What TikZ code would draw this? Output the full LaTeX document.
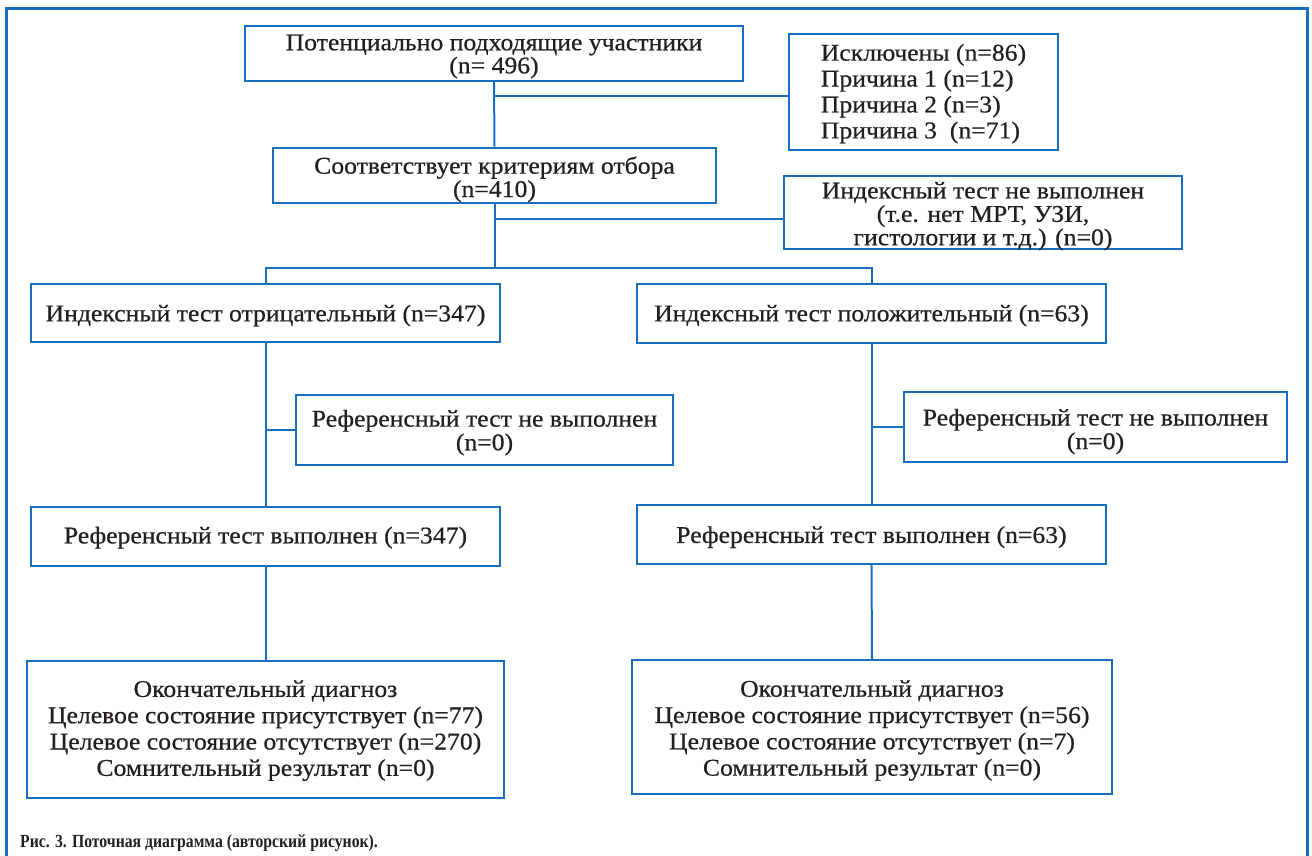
\documentclass[tikz,border=0pt]{standalone}
\usepackage{fontspec}
\setmainfont{Liberation Serif}[FakeStretch=1.07,FakeBold=0.6]
\newfontfamily\capfont{Liberation Serif}[FakeStretch=0.85]
\definecolor{bl}{RGB}{22,112,190}
\definecolor{txt}{RGB}{35,31,32}
% #1 column type, #2 shift down (pt), #3 line pitch (pt), #4 lines
\newcommand{\tx}[4][c]{\raisebox{-#2pt}[\height][\depth]{\fontsize{24}{#3}\selectfont\begin{tabular}{@{}#1@{}}#4\end{tabular}}}
\tikzset{
  box/.style={draw=bl, line width=2.2pt, inner sep=0pt, text=txt},
  conn/.style={draw=bl, line width=2pt},
  frame/.style={draw=bl, line width=3pt}
}
\begin{document}
\begin{tikzpicture}[x=1pt,y=-1pt]
\useasboundingbox (0,0) rectangle (1312,856);
% outer frame (open at bottom)
\coordinate (fbl) at (6,856);
\coordinate (ftl) at (6,8.5);
\coordinate (ftr) at (1307,8.5);
\coordinate (fbr) at (1307,856);
\draw[frame] (fbl) -- (ftl) -- (ftr) -- (fbr);

% boxes
\node[box, minimum width=498, minimum height=55] (pot) at (494,53.5)
  {\tx{3.7}{21.6}{Потенциально подходящие участники\\(n= 496)}};
\node[box, minimum width=269, minimum height=116] (excl) at (923.5,92)
  {\tx[l]{2.3}{25.9}{Исключены (n=86)\\Причина 1 (n=12)\\Причина 2 (n=3)\\Причина 3~~(n=71)}};
\node[box, minimum width=443, minimum height=55] (crit) at (494.5,175.3)
  {\tx{4.8}{22.4}{Соответствует критериям отбора\\(n=410)}};
\node[box, minimum width=398, minimum height=72.5] (inot) at (983,212.4)
  {\tx{4.6}{22.5}{Индексный тест не выполнен\\(т.е. нет МРТ, УЗИ,\\гистологии и т.д.) (n=0)}};
\node[box, minimum width=469, minimum height=58.5] (ineg) at (265.5,313)
  {\tx{3.3}{22}{Индексный тест отрицательный (n=347)}};
\node[box, minimum width=469, minimum height=58.5] (ipos) at (871.5,313.4)
  {\tx{2.9}{22}{Индексный тест положительный (n=63)}};
\node[box, minimum width=377, minimum height=70] (rnotl) at (484.5,430)
  {\tx{3.6}{23.3}{Референсный тест не выполнен\\(n=0)}};
\node[box, minimum width=383, minimum height=70] (rnotr) at (1095.5,427)
  {\tx{5.5}{23.3}{Референсный тест не выполнен\\(n=0)}};
\node[box, minimum width=469, minimum height=58.5] (rdonel) at (265.5,536.4)
  {\tx{2}{22}{Референсный тест выполнен (n=347)}};
\node[box, minimum width=469, minimum height=58.5] (rdoner) at (871.5,534.5)
  {\tx{3.4}{22}{Референсный тест выполнен (n=63)}};
\node[box, minimum width=477, minimum height=137] (finl) at (265.5,729.2)
  {\tx{1.9}{26.3}{Окончательный диагноз\\Целевое состояние присутствует (n=77)\\Целевое состояние отсутствует (n=270)\\Сомнительный результат (n=0)}};
\node[box, minimum width=480, minimum height=134] (finr) at (872,727.2)
  {\tx{3.7}{26.3}{Окончательный диагноз\\Целевое состояние присутствует (n=56)\\Целевое состояние отсутствует (n=7)\\Сомнительный результат (n=0)}};

% connectors
\coordinate (j1) at (pot.south |- 0,96);
\draw[conn] (pot.south) -- (crit.north);
\draw[conn] (j1) -- (j1 -| excl.west);

\coordinate (j2) at (crit.south |- 0,218.5);
\coordinate (split) at (crit.south |- 0,268);
\coordinate (splitl) at (ineg.north |- split);
\coordinate (splitr) at (ipos.north |- split);
\draw[conn] (crit.south) -- (split);
\draw[conn] (j2) -- (j2 -| inot.west);
\draw[conn] (ineg.north) -- (splitl) -- (splitr) -- (ipos.north);

\coordinate (j3) at (ineg.south |- rnotl.west);
\draw[conn] (ineg.south) -- (rdonel.north);
\draw[conn] (j3) -- (rnotl.west);
\coordinate (j4) at (ipos.south |- rnotr.west);
\draw[conn] (ipos.south) -- (rdoner.north);
\draw[conn] (j4) -- (rnotr.west);

\draw[conn] (rdonel.south) -- (finl.north);
\draw[conn] (rdoner.south) -- (finr.north);

% caption
\node[anchor=base west, inner sep=0pt, text=txt, font=\capfont\bfseries\fontsize{18.5}{20}\selectfont] (cap) at (20,847)
  {Рис. 3. Поточная диаграмма (авторский рисунок).};
\end{tikzpicture}
\end{document}
